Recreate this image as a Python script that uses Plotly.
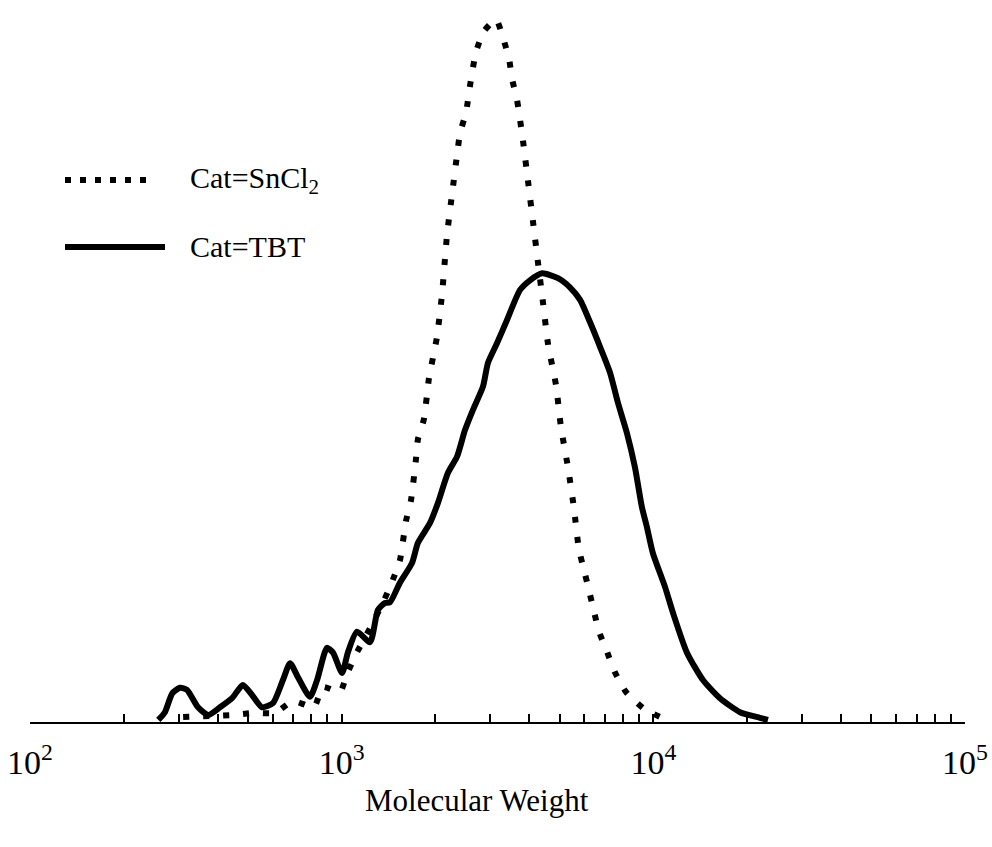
import plotly.graph_objects as go

# ---- data ----
mw_sncl2 = [310, 448, 519, 611, 698, 815, 871, 988, 1041, 1112, 1233, 1368, 1450, 1538,
            1608, 1668, 1730, 1757, 1837, 1906, 2022, 2098, 2178, 2260, 2345, 2397, 2507,
            2583, 2700, 2864, 3128, 3296, 3446, 3519, 3649, 3816, 3961, 4112, 4266, 4426,
            4593, 4873, 5055, 5322, 5561, 5769, 5985, 6210, 6443, 6683, 7093, 7529, 8166,
            9325, 10900]
w_sncl2 = [0.007, 0.010, 0.013, 0.013, 0.030, 0.021, 0.050, 0.043, 0.069, 0.097, 0.134,
           0.174, 0.200, 0.231, 0.287, 0.316, 0.374, 0.404, 0.433, 0.491, 0.550, 0.610,
           0.696, 0.754, 0.810, 0.841, 0.871, 0.910, 0.958, 0.987, 1.004, 0.977, 0.947,
           0.919, 0.890, 0.831, 0.773, 0.714, 0.656, 0.599, 0.540, 0.481, 0.421, 0.364,
           0.306, 0.247, 0.218, 0.189, 0.159, 0.130, 0.101, 0.071, 0.043, 0.019, 0.004]

mw_tbt = [258, 271, 286, 303, 319, 346, 373, 407, 445, 482, 515, 555, 602, 648, 683, 724,
          791, 834, 897, 938, 1003, 1048, 1120, 1233, 1307, 1377, 1429, 1538, 1681, 1757,
          1919, 2037, 2193, 2345, 2487, 2638, 2840, 2947, 3150, 3390, 3732, 4020, 4395,
          4943, 5400, 5821, 6266, 6745, 7261, 7699, 8226, 8728, 9191, 9530, 9972, 10900,
          11560, 12820, 14430, 16360, 18970, 21980, 23330]
w_tbt = [0.003, 0.014, 0.041, 0.049, 0.046, 0.021, 0.010, 0.021, 0.034, 0.053, 0.039,
         0.021, 0.027, 0.060, 0.084, 0.064, 0.036, 0.060, 0.106, 0.099, 0.070, 0.100,
         0.129, 0.114, 0.160, 0.170, 0.171, 0.199, 0.227, 0.256, 0.284, 0.313, 0.356,
         0.379, 0.417, 0.446, 0.479, 0.513, 0.541, 0.574, 0.617, 0.631, 0.641, 0.634,
         0.621, 0.603, 0.571, 0.536, 0.499, 0.456, 0.413, 0.364, 0.307, 0.279, 0.241,
         0.193, 0.156, 0.099, 0.060, 0.034, 0.014, 0.006, 0.003]

tick_vals = [m * 10 ** k for k in (2, 3, 4) for m in range(1, 10)] + [100000]
tick_text = ["10<sup>%d</sup>" % k if m == 1 else "" for k in (2, 3, 4) for m in range(1, 10)] + ["10<sup>5</sup>"]

series_names = ["Cat=SnCl<sub>2</sub>", "Cat=TBT"]
x_title = "Molecular Weight"

FONT = "Liberation Serif"

fig = go.Figure()
fig.add_trace(go.Scatter(x=mw_sncl2, y=w_sncl2, mode="lines", showlegend=False,
                         line=dict(color="black", width=6, dash="6px,14px",
                                   shape="spline", smoothing=0.5)))
fig.add_trace(go.Scatter(x=mw_tbt, y=w_tbt, mode="lines", showlegend=False,
                         line=dict(color="black", width=6, shape="spline", smoothing=0.6)))

# legend drawn by hand (long sample lines as in the reference)
L0, L1 = (65 - 30) / 935, (152 - 30) / 935
ya, yb = (722 - 180) / 712, (722 - 247) / 712
fig.add_shape(type="line", xref="paper", yref="paper", x0=L0, x1=L1, y0=ya, y1=ya,
              line=dict(color="black", width=6, dash="6px,9px"))
fig.add_shape(type="line", xref="paper", yref="paper", x0=L0, x1=(165 - 30) / 935, y0=yb, y1=yb,
              line=dict(color="black", width=6))
tx = (188 - 30) / 935
fig.add_annotation(text=series_names[0], xref="paper", yref="paper", x=tx, y=ya,
                   xanchor="left", yanchor="middle", showarrow=False,
                   font=dict(family=FONT, size=30, color="black"))
fig.add_annotation(text=series_names[1], xref="paper", yref="paper", x=tx, y=yb,
                   xanchor="left", yanchor="middle", showarrow=False,
                   font=dict(family=FONT, size=30, color="black"))
fig.add_annotation(text=x_title, xref="paper", yref="paper", x=(477 - 30) / 935,
                   y=(722 - 800) / 712, xanchor="center", yanchor="middle", showarrow=False,
                   font=dict(family=FONT, size=31, color="black"))

fig.update_layout(
    width=992, height=847,
    margin=dict(l=30, r=27, t=10, b=125, autoexpand=False),
    paper_bgcolor="white", plot_bgcolor="white",
    font=dict(family=FONT, color="black"),
    xaxis=dict(type="log", range=[2, 5], showgrid=False, zeroline=False, automargin=False,
               showline=True, linecolor="black", linewidth=2,
               ticks="inside", ticklen=8, tickwidth=1.5, tickcolor="black",
               tickmode="array", tickvals=tick_vals, ticktext=tick_text,
               ticklabelstandoff=9,
               tickfont=dict(family=FONT, size=34, color="black")),
    yaxis=dict(visible=False, range=[0, 712 / 700], automargin=False),
)

fig.write_html("out.html")
